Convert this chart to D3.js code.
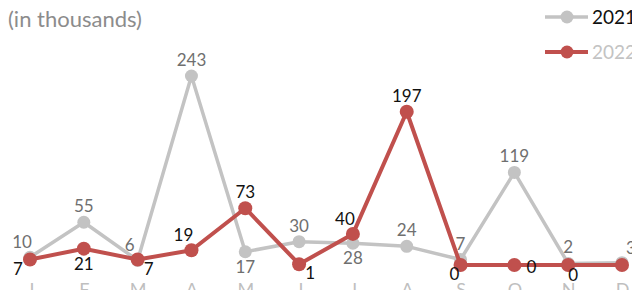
<!DOCTYPE html>
<html>
<head>
<meta charset="utf-8">
<script src="https://cdn.jsdelivr.net/npm/d3@7"></script>
<style>
  body { margin: 0; background: #fff; }
  svg text { font-family: Lato, "Open Sans", sans-serif; }
</style>
</head>
<body>
<div id="chart"></div>
<script>
// monthly values, in thousands
const months = ["J", "F", "M", "A", "M", "J", "J", "A", "S", "O", "N", "D"];
const values2021 = [10, 55, 6, 243, 17, 30, 28, 24, 7, 119, 2, 3];
const values2022 = [7, 21, 7, 19, 73, 1, 40, 197, 0, 0, 0, 0];
// where each data label sits around its point
const place2021 = ["tl", "t", "tl", "t", "b", "t", "b", "t", "t", "t", "t", "tr"];
const place2022 = ["bl", "b", "br", "tl", "t", "br", "tl", "t", "bs", "r", "bn", "r"];

const width = 632, height = 290;
const grey = "#c3c3c3", red = "#c0504d";

const offsets = {
  t: [0, -10], b: [0, 21], tl: [-8, -9], tr: [9, -9],
  bl: [-12, 15], br: [11, 15], r: [17, 8], bs: [-6, 15], bn: [5, 16]
};

const svg = d3.select("#chart").append("svg")
    .attr("width", width)
    .attr("height", height);

const xScale = d3.scalePoint()
    .domain(d3.range(months.length))
    .range([30, 622]);

const yScale = d3.scaleLinear()
    .domain([0, 243])
    .range([265, 76]);

// month letters along the bottom (mostly cropped by the frame)
const xAxis = svg.append("g")
    .attr("transform", "translate(0,296)")
    .call(d3.axisBottom(xScale).tickSize(0).tickPadding(0).tickFormat(i => months[i]));
xAxis.select(".domain").remove();
xAxis.selectAll("text")
    .attr("dy", 0)
    .attr("font-size", 18)
    .attr("fill", "#bfbfbf")
    .style("font-family", "Lato, sans-serif");

// title note
svg.append("text")
    .attr("x", 8)
    .attr("y", 27)
    .attr("font-size", 22)
    .attr("fill", "#8c8c8c")
    .text("(in thousands)");

const line = d3.line()
    .x((d, i) => xScale(i))
    .y(d => yScale(d));

function series(values, color, lw, r, labelColor, places) {
  let g = svg.append("g");
  g.append("path")
      .datum(values)
      .attr("fill", "none")
      .attr("stroke", color)
      .attr("stroke-width", lw)
      .attr("stroke-linejoin", "round")
      .attr("d", line);
  g.selectAll("circle")
    .data(values)
    .enter().append("circle")
      .attr("cx", (d, i) => xScale(i))
      .attr("cy", d => yScale(d))
      .attr("r", r)
      .attr("fill", color);
  g.selectAll("text")
    .data(values)
    .enter().append("text")
      .attr("x", (d, i) => xScale(i) + offsets[places[i]][0])
      .attr("y", (d, i) => yScale(d) + offsets[places[i]][1])
      .attr("text-anchor", "middle")
      .attr("font-size", 17)
      .attr("fill", labelColor)
      .text(d => d);
}

series(values2021, grey, 3.5, 6.5, "#6f6f6f", place2021);
series(values2022, red, 4, 7, "#111", place2022);

// legend
const legend = [
  { name: "2021", color: grey, text: "#111", y: 17 },
  { name: "2022", color: red, text: "#c3c3c3", y: 52 }
];
let lg = svg.append("g").selectAll("g")
  .data(legend)
  .enter().append("g")
    .attr("transform", d => "translate(0," + d.y + ")");
lg.append("line")
    .attr("x1", 545).attr("x2", 588)
    .attr("stroke", d => d.color)
    .attr("stroke-width", (d, i) => i ? 4 : 3.5);
lg.append("circle")
    .attr("cx", 567)
    .attr("r", 6.5)
    .attr("fill", d => d.color);
lg.append("text")
    .attr("x", 592)
    .attr("y", 7)
    .attr("font-size", 19)
    .attr("fill", d => d.text)
    .text(d => d.name);
</script>
</body>
</html>
